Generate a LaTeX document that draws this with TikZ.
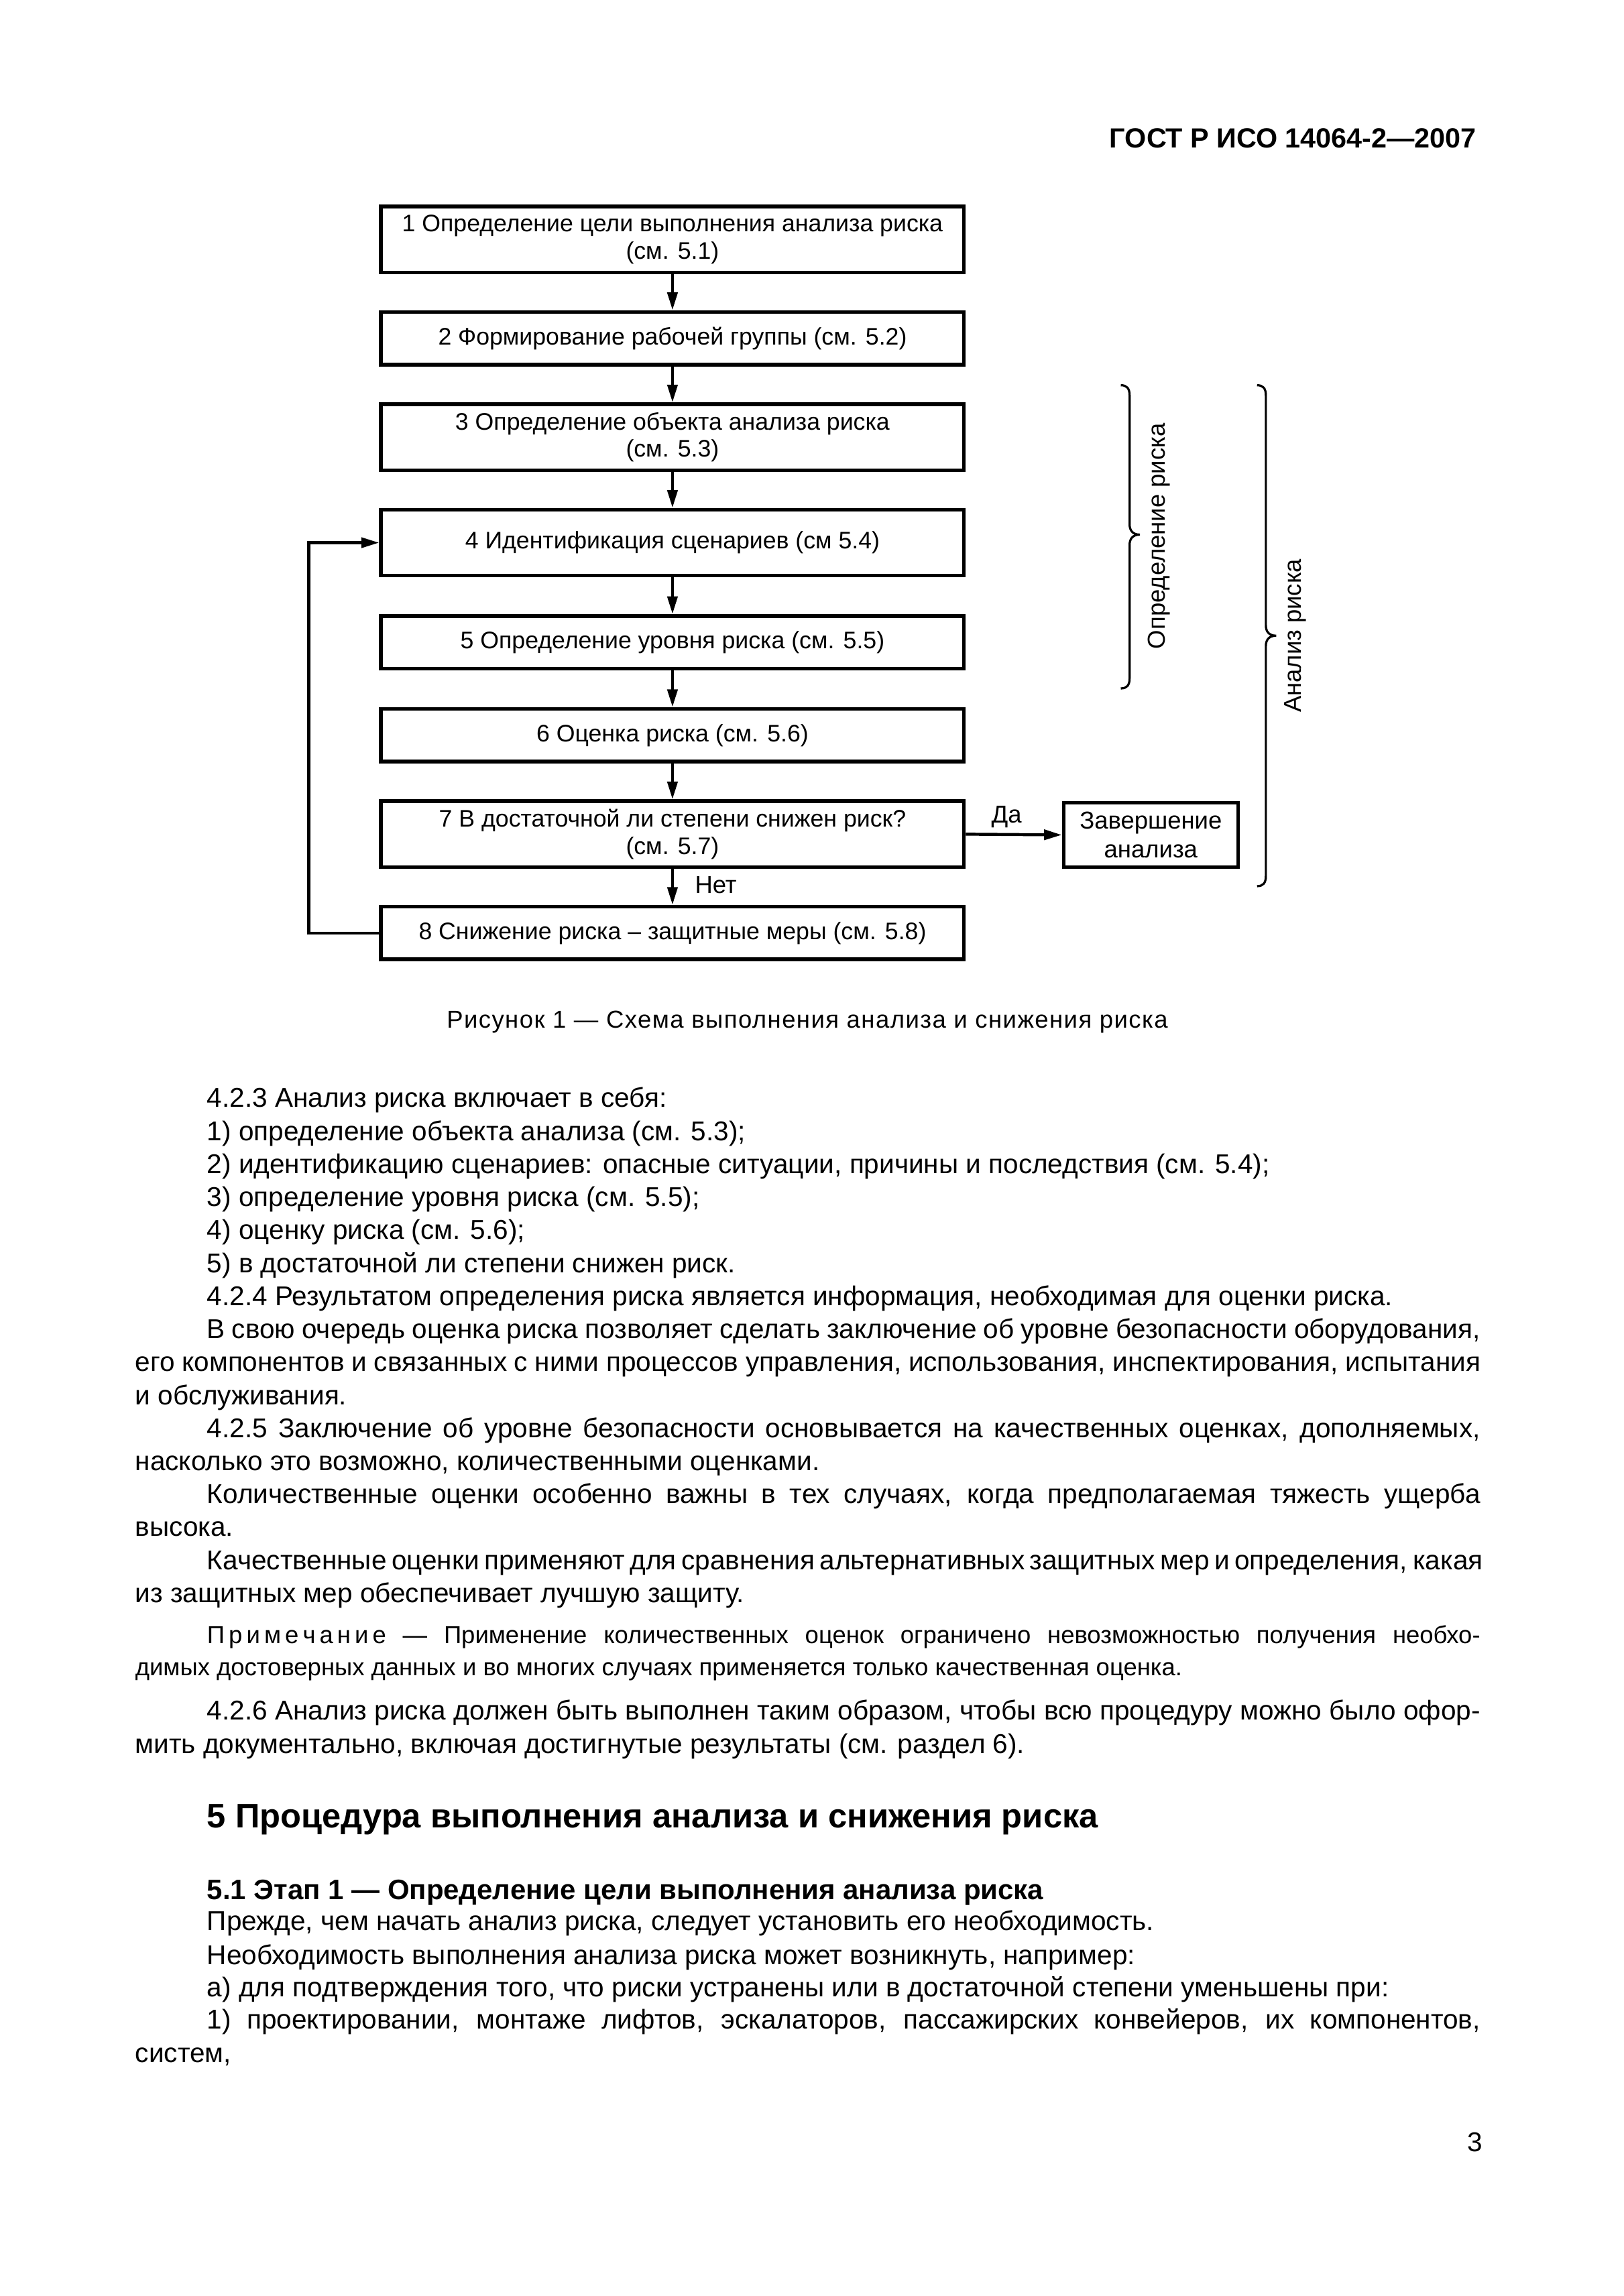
\documentclass[tikz,border=0pt]{standalone}
\usepackage{fontspec}
\setmainfont{Liberation Sans}
\newfontfamily\capfont[LetterSpace=4]{Liberation Sans}
\usetikzlibrary{arrows.meta}
\newlength\jwi \setlength\jwi{164.7mm}
\newlength\jwn \setlength\jwn{174.0mm}
\newcommand\jli[1]{\hbox to \jwi{#1}}
\newcommand\jln[1]{\hbox to \jwn{#1}}
\tikzset{
  box/.style={draw, line width=1.35pt, minimum width=75.43mm, align=center, inner sep=1pt,
    font=\fontsize{8.8}{10}\selectfont},
  onebox/.style={box, minimum height=6.82mm},
  twobox/.style={box, minimum height=8.53mm},
  arr/.style={line width=1.1pt, -{Triangle[length=2.3mm,width=1.3mm]}},
  brc/.style={line width=0.8pt},
  lbl/.style={font=\fontsize{9}{10}\selectfont, inner sep=0pt},
  txt/.style={anchor=base west, inner sep=0pt, font=\fontsize{10}{12}\selectfont},
  note/.style={anchor=base west, inner sep=0pt, font=\fontsize{9}{11}\selectfont},
}
\begin{document}
\begin{tikzpicture}[x=0.18953mm, y=-0.18953mm]
\useasboundingbox (0,0) rectangle (1108,1567.5);
\fill[white] (0,0) rectangle (1108,1567.5);
% header
\node[anchor=base east, inner sep=0pt, font=\fontsize{10.2}{12}\selectfont\bfseries] (hdr) at (1008,101) {ГОСТ Р ИСО 14064-2—2007};
% flowchart
\node[twobox] (b1) at (459,163.5) {1 Определение цели выполнения анализа риска\\(см. 5.1)};
\node[onebox] (b2) at (459,231) {2 Формирование рабочей группы (см. 5.2)};
\node[twobox] (b3) at (459,298.5) {3 Определение объекта анализа риска\\(см. 5.3)};
\node[twobox] (b4) at (459,370.5) {4 Идентификация сценариев (см 5.4)};
\node[onebox] (b5) at (459,438.5) {5 Определение уровня риска (см. 5.5)};
\node[onebox] (b6) at (459,502) {6 Оценка риска (см. 5.6)};
\node[twobox] (b7) at (459,569.5) {7 В достаточной ли степени снижен риск?\\(см. 5.7)};
\node[onebox] (b8) at (459,637) {8 Снижение риска – защитные меры (см. 5.8)};
\node[box, minimum width=22.55mm, minimum height=8.34mm, font=\fontsize{9}{10.5}\selectfont] (end) at (785.5,570) {Завершение\\анализа};
\draw[arr] (b1.south) -- (b2.north);
\draw[arr] (b2.south) -- (b3.north);
\draw[arr] (b3.south) -- (b4.north);
\draw[arr] (b4.south) -- (b5.north);
\draw[arr] (b5.south) -- (b6.north);
\draw[arr] (b6.south) -- (b7.north);
\draw[arr] (b7.south) -- (b8.north);
\draw[arr] (b7.east) -- (end.west);
\draw[arr] (b8.west) -- ++(-48,0) |- (b4.west);
\node[lbl, anchor=base] (da) at (687,562) {Да};
\node[lbl, anchor=base west] (net) at (474,610) {Нет};
% braces
\draw[brc] (765,263) .. controls (769,263) and (771,265) .. (771,270) -- (771,358) .. controls (771,362) and (773,365) .. (778,365) .. controls (773,365) and (771,368) .. (771,372) -- (771,463) .. controls (771,468) and (769,470) .. (765,470);
\draw[brc] (858,263) .. controls (862,263) and (864,265) .. (864,270) -- (864,427) .. controls (864,431) and (866,434) .. (871,434) .. controls (866,434) and (864,437) .. (864,441) -- (864,598) .. controls (864,603) and (862,605) .. (858,605);
\node[rotate=90, inner sep=0pt, font=\fontsize{9}{11}\selectfont] (opr) at (791,366) {Определение риска};
\node[rotate=90, inner sep=0pt, font=\fontsize{9}{11}\selectfont] (anl) at (884,434) {Анализ риска};
% caption
\node[anchor=base, inner sep=0pt, font=\fontsize{9}{11}\selectfont\capfont] (cap) at (551,702) {Рисунок 1 — Схема выполнения анализа и снижения риска};
% body text
\node[txt] (t1) at (141,756) {4.2.3 Анализ риска включает в себя:};
\node[txt] (t2) at (141,778.5) {1) определение объекта анализа (см. 5.3);};
\node[txt] (t3) at (141,801.1) {2) идентификацию сценариев: опасные ситуации, причины и последствия (см. 5.4);};
\node[txt] (t4) at (141,823.6) {3) определение уровня риска (см. 5.5);};
\node[txt] (t5) at (141,846.1) {4) оценку риска (см. 5.6);};
\node[txt] (t6) at (141,868.7) {5) в достаточной ли степени снижен риск.};
\node[txt] (t7) at (141,891.2) {4.2.4 Результатом определения риска является информация, необходимая для оценки риска.};
\node[txt] (t8) at (141,913.7) {\jli{В свою очередь оценка риска позволяет сделать заключение об уровне безопасности оборудования,}};
\node[txt] (t9) at (92,936.2) {\jln{его компонентов и связанных с ними процессов управления, использования, инспектирования, испытания}};
\node[txt] (t10) at (92,958.8) {и обслуживания.};
\node[txt] (t11) at (141,981.3) {\jli{4.2.5 Заключение об уровне безопасности основывается на качественных оценках, дополняемых,}};
\node[txt] (t12) at (92,1003.8) {насколько это возможно, количественными оценками.};
\node[txt] (t13) at (141,1026.4) {\jli{Количественные оценки особенно важны в тех случаях, когда предполагаемая тяжесть ущерба}};
\node[txt] (t14) at (92,1048.9) {высока.};
\node[txt] (t15) at (141,1071.4) {\jli{Качественные оценки применяют для сравнения альтернативных защитных мер и определения, какая}};
\node[txt] (t16) at (92,1094) {из защитных мер обеспечивает лучшую защиту.};
\node[note] (n1) at (141,1122) {\jli{П\kern1.5ptр\kern1.5ptи\kern1.5ptм\kern1.5ptе\kern1.5ptч\kern1.5ptа\kern1.5ptн\kern1.5ptи\kern1.5ptе — Применение количественных оценок ограничено невозможностью получения необхо-}};
\node[note] (n2) at (92,1144) {димых достоверных данных и во многих случаях применяется только качественная оценка.};
\node[txt] (t17) at (141,1174) {\jli{4.2.6 Анализ риска должен быть выполнен таким образом, чтобы всю процедуру можно было офор-}};
\node[txt] (t18) at (92,1197) {мить документально, включая достигнутые результаты (см. раздел 6).};
\node[txt, font=\fontsize{12.5}{14}\selectfont\bfseries] (h1) at (141,1248) {5 Процедура выполнения анализа и снижения риска};
\node[txt, font=\fontsize{10.35}{12}\selectfont\bfseries] (h2) at (141,1297) {5.1 Этап 1 — Определение цели выполнения анализа риска};
\node[txt] (t19) at (141,1318) {Прежде, чем начать анализ риска, следует установить его необходимость.};
\node[txt] (t20) at (141,1341) {Необходимость выполнения анализа риска может возникнуть, например:};
\node[txt] (t21) at (141,1363) {а) для подтверждения того, что риски устранены или в достаточной степени уменьшены при:};
\node[txt] (t22) at (141,1385) {\jli{1) проектировании, монтаже лифтов, эскалаторов, пассажирских конвейеров, их компонентов,}};
\node[txt] (t23) at (92,1408) {систем,};
\node[txt] (pg) at (1001,1469) {3};
\end{tikzpicture}
\end{document}
